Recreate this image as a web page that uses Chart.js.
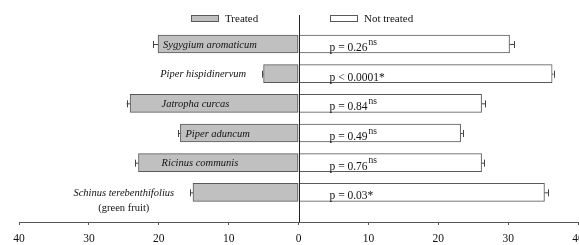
<!DOCTYPE html>
<html>
<head>
<meta charset="utf-8">
<script src="https://cdn.jsdelivr.net/npm/chart.js@4"></script>
<style>
html, body { margin: 0; padding: 0; background: #fff; }
#wrap { width: 579px; height: 245px; }
</style>
</head>
<body>
<div id="wrap"><canvas id="grafico"></canvas></div>
<script>
// dados
var especies = [['Sygygium aromaticum'], ['Piper hispidinervum'], ['Jatropha curcas'], ['Piper aduncum'], ['Ricinus communis'], ['Schinus terebenthifolius', '(green fruit)']];
var tratado = [20.1, 5.0, 24.1, 16.9, 22.9, 15.1];
var tratadoErro = [0.7, 0.2, 0.5, 0.3, 0.5, 0.4];
var naoTratado = [30.2, 36.3, 26.2, 23.2, 26.2, 35.2];
var naoTratadoErro = [0.7, 0.2, 0.5, 0.3, 0.4, 0.5];
var pValores = ['p = 0.26', 'p < 0.0001*', 'p = 0.84', 'p = 0.49', 'p = 0.76', 'p = 0.03*'];
var pMarca = ['ns', '', 'ns', 'ns', 'ns', ''];
var ticksX = [-40, -30, -20, -10, 0, 10, 20, 30, 40];
var legendas = ['Treated', 'Not treated'];

var serif = '"Liberation Serif", "DejaVu Serif", serif';
var corBorda = '#5a5a5a';

// linha do zero, legenda, barras de erro e textos
var extras = {
    id: 'extras',
    afterDatasetsDraw: function (chart) {
        var ctx = chart.ctx;
        var xs = chart.scales.x, ys = chart.scales.y;
        var area = chart.chartArea;
        var x0 = Math.round(xs.getPixelForValue(0)) + 0.5;

        ctx.save();
        // linha vertical
        ctx.strokeStyle = '#222';
        ctx.lineWidth = 1;
        ctx.beginPath();
        ctx.moveTo(x0, 15);
        ctx.lineTo(x0, area.bottom);
        ctx.stroke();

        // barras de erro
        ctx.strokeStyle = '#444';
        for (var i = 0; i < especies.length; i++) {
            var y = ys.getPixelForValue(i);
            [[-tratado[i], -tratado[i] - tratadoErro[i]], [naoTratado[i], naoTratado[i] + naoTratadoErro[i]]].forEach(function (par) {
                var a = xs.getPixelForValue(par[0]), b = xs.getPixelForValue(par[1]);
                ctx.beginPath();
                ctx.moveTo(a, y + 0.5);
                ctx.lineTo(b, y + 0.5);
                ctx.moveTo(Math.round(b) + 0.5, y - 3);
                ctx.lineTo(Math.round(b) + 0.5, y + 4);
                ctx.stroke();
            });
        }

        // nomes das espécies
        ctx.fillStyle = '#111';
        ctx.textBaseline = 'middle';
        for (var i = 0; i < especies.length; i++) {
            var y = ys.getPixelForValue(i);
            var inicio = xs.getPixelForValue(-tratado[i]);
            var fimErro = xs.getPixelForValue(-tratado[i] - tratadoErro[i]);
            ctx.font = 'italic 10.5px ' + serif;
            var w = ctx.measureText(especies[i][0]).width;
            var centro;
            if (w + 10 < x0 - inicio) {
                var esq = Math.max(inicio + 5, xs.getPixelForValue(-19.6));
                centro = esq + w / 2;
            } else {
                centro = fimErro - 16 - w / 2;
            }
            ctx.textAlign = 'center';
            especies[i].forEach(function (linha, k) {
                ctx.font = (k === 0 ? 'italic ' : '') + '10.5px ' + serif;
                ctx.fillText(linha, centro, y + 1 + k * 15);
            });
        }

        // valores de p
        ctx.textAlign = 'left';
        for (var i = 0; i < pValores.length; i++) {
            var y = ys.getPixelForValue(i);
            var px = x0 + 30;
            ctx.font = '11.5px ' + serif;
            ctx.fillText(pValores[i], px, y + 4);
            if (pMarca[i]) {
                var w = ctx.measureText(pValores[i]).width;
                ctx.font = '9.5px ' + serif;
                ctx.fillText(pMarca[i], px + w + 1, y - 2);
            }
        }

        // legenda
        var itens = [[191, '#c0c0c0'], [330, '#ffffff']];
        ctx.font = '11px ' + serif;
        itens.forEach(function (it, k) {
            ctx.fillStyle = it[1];
            ctx.fillRect(it[0], 15, 27, 6);
            ctx.strokeStyle = corBorda;
            ctx.strokeRect(it[0] + 0.5, 15.5, 27, 6);
            ctx.fillStyle = '#111';
            ctx.fillText(legendas[k], it[0] + 34, 19);
        });
        ctx.restore();
    }
};

var ctx1 = document.getElementById('grafico').getContext('2d');
var grafico = new Chart(ctx1, {
    type: 'bar',
    data: {
        labels: especies.map(function (e) { return e[0]; }).concat(['']),
        datasets: [{
            label: legendas[0],
            data: tratado.map(function (v) { return -v; }),
            backgroundColor: '#c0c0c0',
            borderColor: corBorda,
            borderWidth: 1,
            borderSkipped: false,
            barThickness: 18,
            clip: false
        }, {
            label: legendas[1],
            data: naoTratado,
            backgroundColor: '#ffffff',
            borderColor: corBorda,
            borderWidth: 1,
            borderSkipped: false,
            barThickness: 18,
            clip: false
        }]
    },
    options: {
        indexAxis: 'y',
        responsive: true,
        maintainAspectRatio: false,
        animation: false,
        layout: { padding: { top: 44, left: 19, right: 1, bottom: 0 } },
        scales: {
            x: {
                stacked: true,
                min: -40,
                max: 40,
                afterBuildTicks: function (scale) {
                    scale.ticks = ticksX.map(function (v) { return { value: v }; });
                },
                afterFit: function (scale) {
                    scale.paddingLeft = 0;
                    scale.paddingRight = 0;
                    scale.height = 23;
                },
                border: { display: true, color: '#555', width: 1 },
                grid: { drawOnChartArea: false, color: '#555', tickLength: 3 },
                ticks: {
                    padding: 7,
                    maxRotation: 0,
                    autoSkip: false,
                    color: '#111',
                    font: { family: serif, size: 11.5 },
                    callback: function (v) { return Math.abs(v); }
                }
            },
            y: {
                stacked: true,
                display: false,
                offset: false
            }
        },
        plugins: {
            legend: { display: false },
            tooltip: { enabled: false }
        }
    },
    plugins: [extras]
});
</script>
</body>
</html>
